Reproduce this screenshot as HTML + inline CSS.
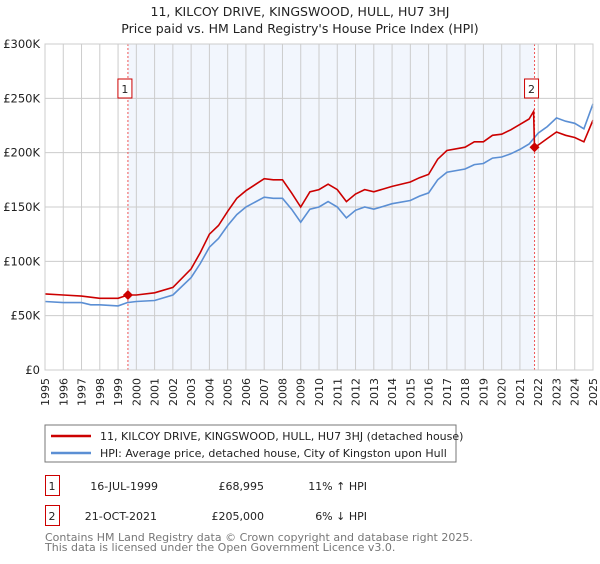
<!DOCTYPE html>
<html><head><meta charset="utf-8"><style>
body{margin:0;background:#fff;font-family:"DejaVu Sans","Liberation Sans",sans-serif;}
svg text{font-family:"DejaVu Sans","Liberation Sans",sans-serif;}
</style></head><body>
<svg id="chart" width="600" height="560">
<text x="300" y="16" text-anchor="middle" font-size="12.5" fill="#222">11, KILCOY DRIVE, KINGSWOOD, HULL, HU7 3HJ</text>
<text x="300" y="33" text-anchor="middle" font-size="12.5" fill="#222">Price paid vs. HM Land Registry's House Price Index (HPI)</text>
<g id="plot"></g>
<rect x="45" y="425" width="411" height="37" fill="#fff" stroke="#777"/>
<line x1="51" y1="436" x2="91" y2="436" stroke="#cc0000" stroke-width="2.5"/>
<text x="100" y="440" font-size="11" fill="#222">11, KILCOY DRIVE, KINGSWOOD, HULL, HU7 3HJ (detached house)</text>
<line x1="51" y1="453" x2="91" y2="453" stroke="#5b8fd4" stroke-width="2.5"/>
<text x="100" y="457" font-size="11" fill="#222">HPI: Average price, detached house, City of Kingston upon Hull</text>
<g font-size="11" fill="#222">
<rect x="45.5" y="475.5" width="14" height="20" fill="none" stroke="#cc0000"/>
<text x="52" y="490" text-anchor="middle">1</text>
<text x="158" y="490" text-anchor="end">16-JUL-1999</text>
<text x="264" y="490" text-anchor="end">£68,995</text>
<text x="367" y="490" text-anchor="end">11% ↑ HPI</text>
<rect x="45.5" y="505.5" width="14" height="20" fill="none" stroke="#cc0000"/>
<text x="52" y="520" text-anchor="middle">2</text>
<text x="157" y="520" text-anchor="end">21-OCT-2021</text>
<text x="264" y="520" text-anchor="end">£205,000</text>
<text x="367" y="520" text-anchor="end">6% ↓ HPI</text>
</g>
<text x="45" y="541" font-size="11" fill="#777">Contains HM Land Registry data © Crown copyright and database right 2025.</text>
<text x="45" y="551" font-size="11" fill="#777">This data is licensed under the Open Government Licence v3.0.</text>
</svg>
<script>
const hpiYears=[1995,1996,1997,1997.5,1998,1999,1999.5,2000,2001,2002,2003,2003.5,2004,2004.5,2005,2005.5,2006,2007,2007.5,2008,2008.5,2009,2009.5,2010,2010.5,2011,2011.5,2012,2012.5,2013,2014,2015,2015.5,2016,2016.5,2017,2018,2018.5,2019,2019.5,2020,2020.5,2021,2021.5,2022,2022.5,2023,2023.5,2024,2024.5,2025];
const hpiValues=[63,62,62,60,60,59,62,63,64,69,85,98,113,121,133,143,150,159,158,158,148,136,148,150,155,150,140,147,150,148,153,156,160,163,175,182,185,189,190,195,196,199,203,208,218,224,232,229,227,222,245];
const priceYears=[1995,1996,1997,1998,1999,1999.54,2000,2001,2002,2003,2003.5,2004,2004.5,2005,2005.5,2006,2007,2007.5,2008,2008.5,2009,2009.5,2010,2010.5,2011,2011.5,2012,2012.5,2013,2014,2015,2015.5,2016,2016.5,2017,2018,2018.5,2019,2019.5,2020,2020.5,2021,2021.5,2021.75,2021.8,2022,2022.5,2023,2023.5,2024,2024.5,2025];
const priceValues=[70,69,68,66,66,69,69,71,76,93,108,125,133,146,158,165,176,175,175,163,150,164,166,171,166,155,162,166,164,169,173,177,180,194,202,205,210,210,216,217,221,226,231,238,205,207,213,219,216,214,210,230];
const saleYears=[1999.54,2021.8];
const saleValues=[68.995,205];
const saleLabels=["1","2"];
const yTicks=[0,50,100,150,200,250,300];
const yTickLabels=["£0","£50K","£100K","£150K","£200K","£250K","£300K"];
const xTicks=[1995,1996,1997,1998,1999,2000,2001,2002,2003,2004,2005,2006,2007,2008,2009,2010,2011,2012,2013,2014,2015,2016,2017,2018,2019,2020,2021,2022,2023,2024,2025];

const X0=45,X1=593,Y0=370,Y1=44;
const xs=v=>X0+(v-1995)/30*(X1-X0);
const ys=v=>Y0-v/300*(Y0-Y1);
const NS="http://www.w3.org/2000/svg";
const g=document.getElementById('plot');
function mk(t,a){const e=document.createElementNS(NS,t);for(const k in a)e.setAttribute(k,a[k]);g.appendChild(e);return e;}
let e=mk('rect',{x:xs(saleYears[0]),y:Y1,width:xs(saleYears[1])-xs(saleYears[0]),height:Y0-Y1,fill:'#eef3fc',opacity:0.75});


xTicks.forEach(t=>{
 let l=mk('line',{x1:xs(t),x2:xs(t),y1:Y1,y2:Y0,stroke:'#ccc'});
 
 
 let tx=mk('text',{x:0,y:0,'font-size':11,fill:'#222','text-anchor':'end',transform:`translate(${xs(t)+4},${Y0+8}) rotate(-90)`});
 tx.textContent=t;
 
 
});
yTicks.forEach((t,i)=>{
 let l=mk('line',{x1:X0,x2:X1,y1:ys(t),y2:ys(t),stroke:'#ccc'});
 
 
 let tx=mk('text',{x:X0-5,y:ys(t)+4,'font-size':11.5,fill:'#222','text-anchor':'end'});
 tx.textContent=yTickLabels[i];
 
 
});
saleYears.forEach((s,i)=>{
 let l=mk('line',{x1:xs(s),x2:xs(s),y1:Y1,y2:Y0,stroke:'#e55','stroke-dasharray':'2,2'});
 
 
});
function path(xa,va,col,name){
 const d=xa.map((x,i)=>(i?'L':'M')+xs(x).toFixed(1)+','+ys(va[i]).toFixed(1)).join('');
 const p=mk('path',{d:d,fill:'none',stroke:col,'stroke-width':1.6});
 
 
}
path(hpiYears,hpiValues,'#5b8fd4','hpi-line');
path(priceYears,priceValues,'#cc0000','price-line');
saleYears.forEach((s,i)=>{
 const cx=xs(s),cy=ys(saleValues[i]);
 let d=mk('path',{d:`M${cx},${cy-5}L${cx+5},${cy}L${cx},${cy+5}L${cx-5},${cy}Z`,fill:'#cc0000'});
 
 
 let r=mk('rect',{x:cx-10,y:79,width:14,height:19,fill:'#fff',stroke:'#cc0000'});
 
 
 let t=mk('text',{x:cx-3,y:93,'font-size':11,'text-anchor':'middle',fill:'#222'});
 t.textContent=saleLabels[i];
 
 
});
let ax=mk('rect',{x:X0,y:Y1,width:X1-X0,height:Y0-Y1,fill:'none',stroke:'#ccc'});


</script>
</body></html>
